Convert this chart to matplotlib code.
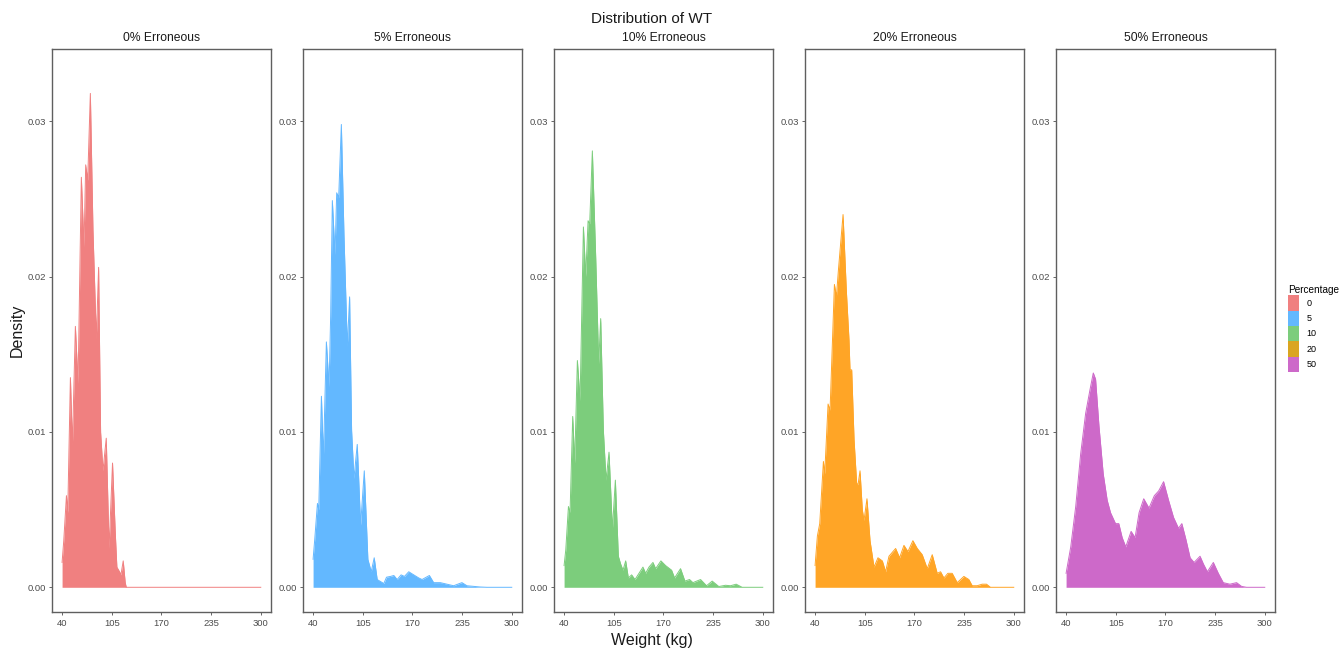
import matplotlib
matplotlib.use("Agg")
import matplotlib.pyplot as plt
from matplotlib.patches import Patch

plt.rcParams['font.family'] = ['Liberation Sans', 'DejaVu Sans']

# ---------------- data ----------------
panel_titles = ["0% Erroneous", "5% Erroneous", "10% Erroneous", "20% Erroneous", "50% Erroneous"]
legend_labels = ["0", "5", "10", "20", "50"]
fill_colors = ["#F08080", "#63B8FF", "#7CCD7C", "#FFA526", "#CD69C9"]
legend_colors = ["#F08080", "#63B8FF", "#7CCD7C", "#DAA520", "#CD69C9"]

x_ticks = [40, 105, 170, 235, 300]
y_ticks = [0.00, 0.01, 0.02, 0.03]

w_0 = [40, 42.2, 45.7, 47.4, 50.9, 53.5, 57.4, 60.9, 65.2, 68.7,
       70.9, 73.5, 77.0, 80.4, 84.8, 87.8, 90.4, 93.5, 97.8, 101.5,
       106.0, 109.6, 111.7, 115.2, 117.0, 120.0, 122.6, 124.0, 300]
d_0 = [0.0016, 0.0030, 0.0059, 0.0048, 0.0135, 0.0091, 0.0168, 0.0131, 0.0264, 0.0219,
       0.0272, 0.0262, 0.0318, 0.0230, 0.0160, 0.0206, 0.0100, 0.0075, 0.0096, 0.0025,
       0.0080, 0.0035, 0.0013, 0.0010, 0.0008, 0.0017, 0.0003, 0.0, 0.0]

w_5 = [40, 42.2, 45.7, 47.4, 50.9, 53.5, 57.4, 60.9, 63.0, 65.2,
       68.7, 70.9, 73.5, 77.0, 80.4, 84.8, 87.8, 90.4, 93.5, 97.8,
       102.2, 107.0, 111.7, 116.1, 120.0, 123.9, 132.6, 136.1, 141.3, 145.7,
       150.0, 155.2, 159.6, 165.2, 171.7, 178.3, 182.6, 192.2, 197.8, 206.5,
       215.2, 223.9, 234.8, 241.3, 258.7, 267.4, 300]
d_5 = [0.0018, 0.0031, 0.0054, 0.0050, 0.0123, 0.0083, 0.0158, 0.0129, 0.0175, 0.0249,
       0.0214, 0.0254, 0.0251, 0.0298, 0.0227, 0.0155, 0.0187, 0.0101, 0.0070, 0.0092,
       0.0040, 0.0075, 0.0018, 0.0010, 0.0019, 0.0005, 0.00024, 0.00065, 0.0007, 0.00076,
       0.0005, 0.0008, 0.0007, 0.0010, 0.0008, 0.0006, 0.0005, 0.00076, 0.0003, 0.0003,
       0.0002, 0.0001, 0.0003, 0.0001, 0.00002, 0.0, 0.0]

w_10 = [40, 42.2, 45.7, 47.8, 51.3, 53.9, 57.4, 60.9, 65.3, 68.3,
        71.4, 73.5, 77.0, 81.4, 85.3, 87.9, 91.4, 94.9, 98.8, 103.2,
        107.1, 111.0, 114.0, 117.1, 120.6, 124.1, 128.4, 132.8, 138.0, 143.2,
        146.7, 151.1, 156.3, 159.8, 166.7, 172.8, 180.7, 184.6, 192.4, 198.1,
        204.2, 208.6, 218.6, 226.4, 233.8, 242.5, 251.2, 257.8, 265.2, 273.0, 300]
d_10 = [0.0014, 0.0024, 0.0052, 0.0048, 0.0110, 0.0080, 0.0146, 0.0120, 0.0232, 0.0200,
        0.0236, 0.0234, 0.0281, 0.0212, 0.0144, 0.0173, 0.0101, 0.0069, 0.0087, 0.0037,
        0.0069, 0.0020, 0.0015, 0.0011, 0.0017, 0.0006, 0.0008, 0.0005, 0.0009, 0.0013,
        0.0009, 0.0013, 0.0016, 0.0012, 0.0017, 0.0014, 0.0011, 0.0006, 0.0012, 0.0004,
        0.0005, 0.0003, 0.0005, 0.0001, 0.0004, 0.00005, 0.00013, 0.0001, 0.0002, 0.0, 0.0]

w_20 = [40, 43.0, 46.1, 50.9, 52.6, 57.0, 59.6, 65.3, 67.9, 70.5,
        76.6, 80.9, 84.4, 85.7, 87.9, 91.0, 94.4, 96.2, 98.8, 101.8,
        104.0, 107.9, 111.9, 117.1, 122.3, 128.0, 132.3, 136.7, 145.4, 150.6,
        156.3, 161.5, 168.0, 173.7, 180.2, 186.8, 193.3, 199.8, 204.2, 208.6,
        213.8, 219.4, 226.0, 234.7, 241.2, 245.6, 252.1, 258.6, 264.3, 269.5, 300]
d_20 = [0.0014, 0.0033, 0.0041, 0.0081, 0.0073, 0.0118, 0.0114, 0.0195, 0.0187, 0.0204,
        0.0240, 0.0191, 0.0159, 0.0140, 0.0140, 0.0095, 0.0067, 0.0066, 0.0075, 0.0050,
        0.0043, 0.0057, 0.0030, 0.0013, 0.0019, 0.0017, 0.0010, 0.0020, 0.0025, 0.0019,
        0.0027, 0.0023, 0.0030, 0.0025, 0.0021, 0.0012, 0.0021, 0.0009, 0.0010, 0.0006,
        0.0009, 0.0009, 0.0003, 0.0007, 0.0005, 0.0001, 0.0001, 0.0002, 0.0002, 0.0, 0.0]

w_50 = [40, 46.1, 52.6, 59.1, 65.6, 71.2, 75.6, 78.6, 83.0, 88.6,
        93.8, 98.2, 104.7, 109.0, 113.4, 118.1, 125.1, 130.3, 135.5, 141.6,
        148.5, 155.5, 161.1, 167.6, 174.1, 180.6, 187.1, 191.5, 196.7, 202.3,
        207.5, 215.3, 219.7, 224.9, 232.7, 239.2, 245.7, 254.4, 263.1, 269.6,
        276.1, 300]
d_50 = [0.0009, 0.0026, 0.0052, 0.0086, 0.0112, 0.0127, 0.0138, 0.0134, 0.0104, 0.0073,
        0.0056, 0.0048, 0.0041, 0.0041, 0.0032, 0.0026, 0.0036, 0.0032, 0.0048, 0.0057,
        0.0051, 0.0059, 0.0062, 0.0068, 0.0056, 0.0045, 0.0038, 0.0041, 0.0031, 0.0019,
        0.0016, 0.0020, 0.0015, 0.0010, 0.0016, 0.0009, 0.0003, 0.0002, 0.0003, 0.00006,
        0.0, 0.0]

weights = [w_0, w_5, w_10, w_20, w_50]
densities = [d_0, d_5, d_10, d_20, d_50]

# ---------------- figure ----------------
W, H = 1341, 648
fig = plt.figure(figsize=(W / 100, H / 100), dpi=100)

frame_col = "#5f5f5f"
tick_col = "#4d4d4d"

panel_left0 = 52.3
panel_step = 251.0
panel_w = 218.4
panel_top = 49.3
panel_bot = 612.3

for i in range(5):
    left = (panel_left0 + panel_step * i) / W
    ax = fig.add_axes([left, (H - panel_bot) / H, panel_w / W, (panel_bot - panel_top) / H])
    ax.fill_between(weights[i], densities[i], 0, color=fill_colors[i], linewidth=0)
    ax.plot(weights[i], densities[i], color=fill_colors[i], linewidth=0.7)
    ax.set_xlim(27.2, 313)
    ax.set_ylim(-0.00161, 0.03464)
    ax.set_xticks(x_ticks)
    ax.set_xticklabels([str(t) for t in x_ticks])
    ax.set_yticks(y_ticks)
    ax.set_yticklabels(["%.2f" % t for t in y_ticks])
    ax.tick_params(axis='both', labelsize=6.8, colors=tick_col, length=2.5, width=0.6, pad=2)
    for sp in ax.spines.values():
        sp.set_color(frame_col)
        sp.set_linewidth(1.0)
    ax.set_title(panel_titles[i], fontsize=8.7, color="#1a1a1a", pad=6)

fig.text(652 / W, 1 - 19 / H, "Distribution of WT", ha="center", va="center", fontsize=11, color="#1a1a1a")
fig.text(652 / W, 1 - 640 / H, "Weight (kg)", ha="center", va="center", fontsize=11.5, color="#1a1a1a")
fig.text(17 / W, 1 - 330 / H, "Density", ha="center", va="center", rotation=90, fontsize=11.5, color="#1a1a1a")

handles = [Patch(facecolor=c, edgecolor="none") for c in legend_colors]
leg = fig.legend(handles, legend_labels, title="Percentage", loc="upper left",
                 bbox_to_anchor=(1280 / W, 1 - 277 / H), frameon=False,
                 fontsize=6.5, title_fontsize=7.2, handlelength=1.2, handleheight=2.25,
                 labelspacing=0.0, handletextpad=0.8, borderpad=0.9, borderaxespad=0)
leg._legend_box.align = "left"

fig.savefig("out.png", dpi=100)
